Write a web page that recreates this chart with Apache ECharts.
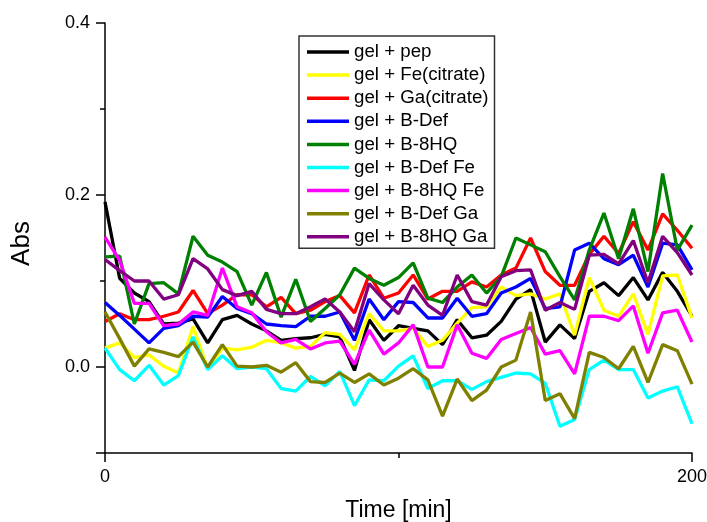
<!DOCTYPE html>
<html>
<head>
<meta charset="utf-8">
<script src="https://cdn.jsdelivr.net/npm/echarts@6/dist/echarts.min.js"></script>
<style>
html,body{margin:0;padding:0;background:#fff;}
#chart{width:707px;height:522px;}
</style>
</head>
<body>
<div id="chart"></div>
<script>
const times = [0,5,10,15,20,25,30,35,40,45,50,55,60,65,70,75,80,85,90,95,100,105,110,115,120,125,130,135,140,145,150,155,160,165,170,175,180,185,190,195,200];

const seriesNames = ['gel + pep','gel + Fe(citrate)','gel + Ga(citrate)','gel + B-Def','gel + B-8HQ','gel + B-Def Fe','gel + B-8HQ Fe','gel + B-Def Ga','gel + B-8HQ Ga'];
const seriesColors = ['#000000','#FFFF00','#FF0000','#0000FF','#008000','#00FFFF','#FF00FF','#808000','#800080'];

const pep = [0.192,0.103,0.086,0.076,0.050,0.051,0.056,0.028,0.055,0.060,0.050,0.042,0.031,0.033,0.034,0.038,0.035,-0.004,0.055,0.031,0.048,
  0.045,0.042,0.026,0.055,0.034,0.037,0.053,0.079,0.090,0.029,0.049,0.033,0.088,0.098,0.083,0.104,0.078,0.110,0.088,0.059];
const feCitrate = [0.022,0.028,0.011,0.014,0.001,-0.007,0.047,-0.002,0.022,0.020,0.023,0.031,0.028,0.022,0.024,0.040,0.038,0.020,0.062,0.042,0.042,
  0.045,0.024,0.031,0.051,0.069,0.070,0.093,0.083,0.085,0.079,0.085,0.037,0.104,0.066,0.059,0.085,0.038,0.106,0.107,0.057];
const gaCitrate = [0.053,0.062,0.055,0.055,0.059,0.064,0.089,0.062,0.072,0.084,0.084,0.070,0.081,0.062,0.066,0.076,0.083,0.063,0.107,0.080,0.086,
  0.107,0.079,0.088,0.088,0.099,0.093,0.107,0.115,0.150,0.111,0.095,0.095,0.131,0.152,0.132,0.169,0.136,0.178,0.159,0.138];
const bDef = [0.075,0.060,0.044,0.028,0.045,0.048,0.059,0.058,0.082,0.068,0.062,0.050,0.048,0.047,0.059,0.059,0.064,0.031,0.079,0.055,0.076,
  0.075,0.057,0.057,0.080,0.059,0.062,0.086,0.093,0.103,0.068,0.070,0.136,0.144,0.126,0.119,0.130,0.093,0.144,0.142,0.113];
const b8HQ = [0.128,0.129,0.050,0.097,0.098,0.085,0.152,0.130,0.122,0.111,0.072,0.110,0.058,0.102,0.053,0.068,0.084,0.115,0.103,0.095,0.104,
  0.121,0.080,0.075,0.093,0.107,0.086,0.105,0.150,0.142,0.134,0.105,0.078,0.136,0.179,0.126,0.184,0.111,0.225,0.136,0.165];
const bDefFe = [0.022,-0.003,-0.016,0.002,-0.021,-0.010,0.035,-0.003,0.013,-0.002,0.000,-0.002,-0.025,-0.028,-0.011,-0.022,-0.005,-0.045,-0.015,-0.016,0.001,
  0.013,-0.025,-0.016,-0.016,-0.026,-0.017,-0.012,-0.007,-0.008,-0.019,-0.069,-0.061,-0.003,0.008,-0.003,-0.003,-0.036,-0.028,-0.023,-0.066];
const b8HQFe = [0.151,0.124,0.074,0.074,0.048,0.050,0.064,0.060,0.115,0.070,0.063,0.041,0.028,0.032,0.021,0.028,0.030,0.003,0.043,0.015,0.028,
  0.049,0.000,0.000,0.049,0.016,0.010,0.032,0.039,0.046,0.015,0.019,-0.008,0.059,0.059,0.054,0.071,0.016,0.063,0.066,0.029];
const bDefGa = [0.064,0.033,0.001,0.021,0.017,0.012,0.029,0.000,0.026,0.001,0.000,0.002,-0.006,0.005,-0.017,-0.018,-0.007,-0.018,-0.008,-0.021,-0.013,
  -0.002,-0.015,-0.057,-0.014,-0.039,-0.027,0.000,0.008,0.064,-0.039,-0.031,-0.060,0.017,0.011,-0.002,0.024,-0.018,0.026,0.019,-0.020];
const b8HQGa = [0.125,0.112,0.100,0.100,0.079,0.084,0.126,0.114,0.090,0.083,0.088,0.067,0.062,0.062,0.070,0.079,0.064,0.041,0.097,0.078,0.062,
  0.095,0.072,0.060,0.107,0.076,0.072,0.105,0.112,0.113,0.066,0.075,0.067,0.130,0.131,0.120,0.147,0.098,0.152,0.133,0.107];

const allValues = [pep, feCitrate, gaCitrate, bDef, b8HQ, bDefFe, b8HQFe, bDefGa, b8HQGa];

const xLabels = [0, 200];
const xMinorTicks = [100];
const yLabels = [0, 0.2, 0.4];
const yMajorTicks = [-0.1, 0, 0.2, 0.4];
const yMinorTicks = [0.1, 0.3];

const FONT = 'Liberation Sans, Arial, sans-serif';

const chart = echarts.init(document.getElementById('chart'), null, {renderer: 'canvas'});

const series = seriesNames.map((name, k) => ({
  name: name,
  type: 'line',
  xAxisIndex: 0,
  yAxisIndex: 0,
  showSymbol: false,
  symbol: 'none',
  color: seriesColors[k],
  lineStyle: {width: 3.3, color: seriesColors[k]},
  data: times.map((t, i) => [t, allValues[k][i]])
}));

const axisLineStyle = {color: '#000', width: 1.5};

chart.setOption({
  animation: false,
  backgroundColor: '#fff',
  grid: {left: 105, right: 15, top: 23, bottom: 69, containLabel: false, outerBoundsMode: 'none'},
  legend: {
    data: seriesNames,
    orient: 'vertical',
    left: 299,
    top: 36,
    padding: [6, 6, 1.5, 8],
    itemGap: 3.1,
    itemWidth: 42,
    itemHeight: 3.5,
    icon: 'rect',
    borderColor: '#333',
    borderWidth: 1.5,
    backgroundColor: '#fff',
    textStyle: {fontFamily: FONT, fontSize: 18.7, color: '#000', lineHeight: 20}
  },
  xAxis: [
    {
      type: 'value', min: 0, max: 200, position: 'bottom',
      name: 'Time [min]', nameLocation: 'middle', nameGap: 46,
      nameTextStyle: {fontFamily: FONT, fontSize: 23, color: '#000'},
      axisLine: {show: true, onZero: false, lineStyle: axisLineStyle},
      axisTick: {show: true, length: 9, customValues: xLabels, lineStyle: axisLineStyle},
      axisLabel: {show: true, customValues: xLabels, margin: 15, fontFamily: FONT, fontSize: 18, color: '#000'},
      splitLine: {show: false}
    },
    {
      type: 'value', min: 0, max: 200, position: 'bottom',
      axisLine: {show: false, onZero: false},
      axisTick: {show: true, length: 5, customValues: xMinorTicks, lineStyle: axisLineStyle},
      axisLabel: {show: false},
      splitLine: {show: false}
    }
  ],
  yAxis: [
    {
      type: 'value', min: -0.1, max: 0.4, position: 'left',
      name: 'Abs', nameLocation: 'middle', nameGap: 70, nameRotate: 90,
      nameTextStyle: {fontFamily: FONT, fontSize: 26, color: '#000', padding: [0, 11, 0, 0]},
      axisLine: {show: true, onZero: false, lineStyle: axisLineStyle},
      axisTick: {show: true, length: 9, customValues: yMajorTicks, lineStyle: axisLineStyle},
      axisLabel: {show: true, customValues: yLabels, margin: 15, fontFamily: FONT, fontSize: 18, color: '#000',
        formatter: v => Number(v).toFixed(1)},
      splitLine: {show: false}
    },
    {
      type: 'value', min: -0.1, max: 0.4, position: 'left',
      axisLine: {show: false, onZero: false},
      axisTick: {show: true, length: 5, customValues: yMinorTicks, lineStyle: axisLineStyle},
      axisLabel: {show: false},
      splitLine: {show: false}
    }
  ],
  series: series
});
</script>
</body>
</html>
